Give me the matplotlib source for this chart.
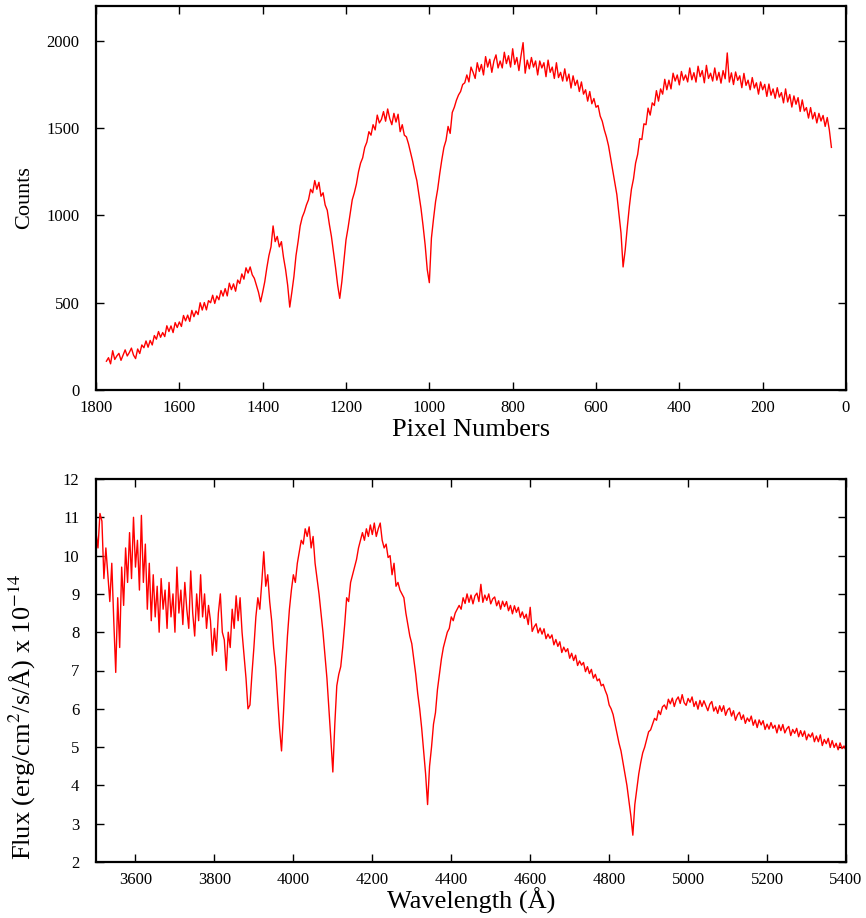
import numpy as np
import matplotlib
matplotlib.use("Agg")
import matplotlib.pyplot as plt

plt.rcParams['font.family'] = ['Liberation Serif', 'DejaVu Serif']
plt.rcParams['mathtext.fontset'] = 'stix'

# ---------------- top panel: counts vs pixel number (pixel 1775 down, step 5)
pix_start = 1775
pix_step = 5
counts = [
    # 1775 .. 1705
    165, 185, 150, 225, 175, 195, 210, 170, 200, 230, 195, 215, 240, 200, 180,
    # 1700 .. 1440
    235, 209, 258, 242, 281, 245, 284, 258, 312, 291,
    335, 302, 329, 306, 368, 335, 367, 329, 386, 358,
    390, 364, 427, 396, 429, 393, 456, 420, 453, 432,
    500, 458, 501, 459, 512, 500, 543, 496, 539, 517,
    570, 538, 581, 539, 612, 575, 608, 566, 630, 610,
    665, 635, 700,
    # 1435 .. 915
    670, 705,
    660, 640, 600, 560, 505, 560, 620, 700, 770, 820,
    940, 850, 880, 820, 850, 760, 690, 600, 475, 560,
    650, 770, 850, 940, 990, 1020, 1060, 1090, 1150, 1130,
    1200, 1150, 1190, 1110, 1130, 1060, 1030, 950, 880, 790,
    700, 600, 525, 620, 740, 860, 930, 1010, 1090, 1130,
    1180, 1250, 1300, 1330, 1390, 1420, 1480, 1460, 1520, 1490,
    1575, 1530, 1550, 1595, 1540, 1610, 1555, 1520, 1585, 1535,
    1580, 1480, 1520, 1460, 1450, 1410, 1360, 1310, 1250, 1200,
    1120, 1040, 940, 830, 690, 615, 870, 980, 1080, 1150,
    1240, 1320, 1390, 1430, 1510, 1470, 1590, 1620, 1660, 1690,
    1710, 1750, 1760,
    # 910 .. 650
    1805, 1765, 1850, 1820, 1785, 1875, 1825, 1865, 1805, 1910,
    1850, 1895, 1820, 1885, 1920, 1845, 1885, 1845, 1935, 1870,
    1915, 1850, 1955, 1865, 1905, 1830, 1915, 1990, 1815, 1890,
    1840, 1905, 1850, 1885, 1805, 1885, 1845, 1875, 1795, 1890,
    1820, 1850, 1785, 1875, 1790, 1820, 1770, 1840, 1770, 1810,
    1730, 1800, 1745,
    # 645 .. 590
    1775, 1710, 1765, 1695, 1720, 1655, 1710, 1640, 1670, 1620,
    1630, 1570,
    # 585 .. 500
    1540, 1490, 1450, 1400, 1330, 1260, 1190, 1120, 1010, 900,
    705, 800, 930, 1050, 1150, 1210, 1300, 1350,
    # 495 .. 35
    1440, 1435, 1525, 1520, 1615, 1575, 1645, 1630, 1715, 1655,
    1725, 1695, 1780, 1720, 1775, 1725, 1815, 1770, 1805, 1748,
    1825, 1775, 1805, 1765, 1845, 1777, 1818, 1764, 1855, 1795,
    1830, 1760, 1860, 1785, 1815, 1770, 1845, 1775, 1820, 1758,
    1830, 1783, 1931, 1764, 1817, 1750, 1822, 1774, 1800, 1732,
    1814, 1745, 1775, 1720, 1790, 1730, 1760, 1695, 1765, 1720,
    1751, 1682, 1753, 1689, 1725, 1671, 1732, 1678, 1704, 1645,
    1725, 1650, 1693, 1621, 1685, 1637, 1675, 1596, 1662, 1598,
    1618, 1558, 1618, 1553, 1590, 1530, 1585, 1541, 1573, 1510,
    1561, 1490, 1390,
]
pixels = pix_start - pix_step * np.arange(len(counts))

top_xticks = [1800, 1600, 1400, 1200, 1000, 800, 600, 400, 200, 0]
top_yticks = [0, 500, 1000, 1500, 2000]

# ---------------- bottom panel: flux vs wavelength (3500 A up, step 5)
wl_start = 3500
wl_step = 5
flux = [
    # 3500 .. 4435
    10.6, 10.2, 11.1, 10.9, 9.4, 10.2, 9.5, 8.8, 9.8, 8.3,
    6.95, 8.9, 7.6, 9.7, 8.7, 10.2, 9.3, 10.6, 9.4, 11.0,
    9.7, 10.4, 9.1, 11.05, 9.3, 10.3, 8.6, 9.8, 8.3, 9.5,
    8.4, 9.2, 8.0, 9.4, 8.6, 9.1, 8.1, 9.3, 8.4, 9.0,
    8.0, 9.7, 8.5, 9.1, 8.2, 9.3, 8.6, 8.1, 9.6, 8.5,
    7.9, 9.0, 8.3, 9.5, 8.4, 9.0, 8.1, 8.7, 8.3, 7.4,
    8.1, 7.5, 8.5, 9.0, 8.0, 7.8, 7.0, 8.0, 7.6, 8.6,
    8.1, 8.95, 8.3, 8.9, 8.0, 7.4, 6.8, 6.0, 6.1, 6.9,
    7.6, 8.4, 8.9, 8.6, 9.3, 10.1, 9.2, 9.5, 8.8, 8.3,
    7.6, 7.1, 6.3, 5.5, 4.9, 5.9, 7.0, 7.9, 8.6, 9.1,
    9.5, 9.3, 9.8, 10.1, 10.4, 10.3, 10.7, 10.5, 10.75, 10.2,
    10.5, 9.8, 9.4, 9.0, 8.5, 8.0, 7.4, 6.8, 6.0, 5.2,
    4.35, 5.6, 6.6, 6.9, 7.1, 7.6, 8.2, 8.9, 8.8, 9.3,
    9.5, 9.7, 9.9, 10.2, 10.4, 10.6, 10.4, 10.7, 10.5, 10.8,
    10.55, 10.85, 10.5, 10.7, 10.85, 10.4, 10.2, 10.3, 9.95, 10.0,
    9.5, 9.8, 9.2, 9.3, 9.1, 9.0, 8.9, 8.5, 8.2, 7.9,
    7.7, 7.3, 6.9, 6.4, 6.0, 5.5, 4.9, 4.3, 3.5, 4.5,
    5.0, 5.6, 5.9, 6.5, 6.9, 7.3, 7.6, 7.8, 8.0, 8.1,
    8.4, 8.3, 8.5, 8.6, 8.7, 8.6, 8.9, 8.75,
    # 4440 .. 4795
    9.00, 8.78, 8.97, 8.74, 8.95, 9.02, 8.80, 9.25, 8.78, 8.97,
    8.83, 9.00, 8.74, 8.87, 8.92, 8.69, 8.82, 8.60, 8.81, 8.67,
    8.80, 8.56, 8.70, 8.48, 8.69, 8.52, 8.65, 8.39, 8.53, 8.36,
    8.47, 8.20, 8.65, 8.02, 8.14, 8.22, 7.98, 8.11, 7.95, 8.09,
    7.83, 7.95, 7.84, 7.93, 7.67, 7.81, 7.63, 7.75, 7.47, 7.61,
    7.49, 7.57, 7.32, 7.45, 7.26, 7.40, 7.13, 7.25, 7.14, 7.21,
    6.97, 7.10, 6.92, 7.03, 6.80, 6.90, 6.73, 6.78, 6.60, 6.64,
    6.48, 6.35,
    # 4800 .. 4935
    6.1, 6.0, 5.85, 5.6, 5.35, 5.1, 4.9, 4.6, 4.3, 4.0,
    3.6, 3.2, 2.7, 3.5, 3.9, 4.3, 4.6, 4.85, 5.0, 5.2,
    5.4, 5.45, 5.6, 5.75, 5.7, 5.95, 5.85, 6.05,
    # 4940 .. 5400
    6.10, 5.99, 6.25, 6.13, 6.28, 6.06, 6.23, 6.31, 6.14, 6.37,
    6.16, 6.09, 6.27, 6.17, 6.31, 6.06, 6.19, 5.99, 6.22, 6.06,
    6.21, 6.08, 5.95, 6.12, 6.19, 5.94, 6.05, 5.88, 6.08, 5.93,
    6.08, 5.83, 5.97, 6.02, 5.81, 5.95, 5.70, 5.84, 5.91, 5.72,
    5.84, 5.62, 5.76, 5.67, 5.81, 5.57, 5.71, 5.51, 5.71, 5.58,
    5.69, 5.46, 5.60, 5.47, 5.64, 5.49, 5.57, 5.37, 5.58, 5.43,
    5.59, 5.37, 5.48, 5.54, 5.30, 5.46, 5.36, 5.49, 5.27, 5.43,
    5.28, 5.42, 5.19, 5.34, 5.26, 5.37, 5.14, 5.29, 5.14, 5.32,
    5.04, 5.20, 5.09, 5.23, 4.99, 5.17, 4.99, 5.10, 4.93, 5.11,
    4.96, 5.03, 4.92,
]
wavelength = wl_start + wl_step * np.arange(len(flux))

bot_xticks = [3600, 3800, 4000, 4200, 4400, 4600, 4800, 5000, 5200, 5400]
bot_yticks = [2, 3, 4, 5, 6, 7, 8, 9, 10, 11, 12]

fig = plt.figure(figsize=(8.66, 9.18), dpi=100)
ax1 = fig.add_axes([96/866, 1-390/918, 750/866, 384/918])
ax2 = fig.add_axes([96/866, 1-862/918, 750/866, 383/918])

for ax in (ax1, ax2):
    ax.tick_params(direction='in', length=6, width=1.0, top=True, right=True,
                   labelsize=12)
    ax.tick_params(axis='x', pad=7)
    ax.tick_params(axis='y', pad=12)
    for s in ax.spines.values():
        s.set_linewidth(1.6)

ax1.plot(pixels, counts, color='#ff0000', lw=1.0)
ax1.set_xlim(1800, 0)
ax1.set_ylim(0, 2200)
ax1.set_xticks(top_xticks)
ax1.set_yticks(top_yticks)
ax1.set_xlabel('Pixel Numbers', fontsize=19)
ax1.set_ylabel('Counts', fontsize=16)
ax1.xaxis.set_label_coords(0.5, -0.075)
ax1.yaxis.set_label_coords(-0.083, 0.5)

ax2.plot(wavelength, flux, color='#ff0000', lw=1.0)
ax2.set_xlim(3500, 5400)
ax2.set_ylim(2, 12)
ax2.set_xticks(bot_xticks)
ax2.set_yticks(bot_yticks)
ax2.set_xlabel('Wavelength (Å)', fontsize=19)
ax2.set_ylabel('Flux (erg/cm$^{2}$/s/Å) x 10$^{-14}$', fontsize=19)
ax2.xaxis.set_label_coords(0.5, -0.066)
ax2.yaxis.set_label_coords(-0.077, 0.379)

fig.savefig('out.png', dpi=100)
